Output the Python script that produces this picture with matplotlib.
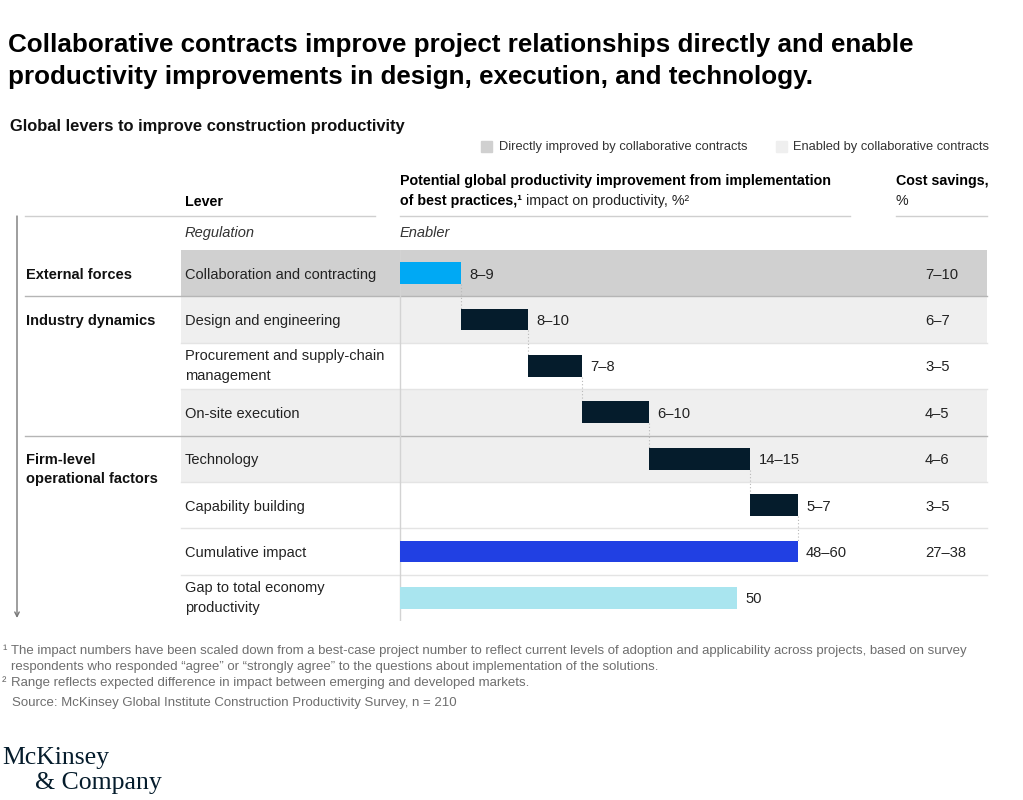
import numpy as np
import matplotlib.pyplot as plt

W, H = 1023, 800
plt.rcParams['font.family'] = ['Liberation Sans', 'DejaVu Sans']

# data
levers = ["Collaboration and contracting", "Design and engineering",
          "Procurement and supply-chain\nmanagement", "On-site execution",
          "Technology", "Capability building", "Cumulative impact",
          "Gap to total economy\nproductivity"]
impact_labels = ["8–9", "8–10", "7–8", "6–10", "14–15", "5–7", "48–60", "50"]
impact_high = [9, 10, 8, 10, 15, 7]   # step bars drawn at the top of each range
gap_value = 50
cost_savings = ["7–10", "6–7", "3–5", "4–5", "4–6", "3–5", "27–38", ""]
groups = ["External forces", "Industry dynamics", "Firm-level\noperational factors"]
group_rows = [0, 1, 4]
row_kind = ["direct", "enabled", None, "enabled", "enabled", None, None, None]

shade = {"direct": "#d0d0d0", "enabled": "#efefef"}
navy = "#051c2c"


def fx(x):
    return x / W


def fy(y):
    return 1 - y / H


fig = plt.figure(figsize=(W / 100, H / 100), dpi=100)

# table / bar area: rows from y=250 to y=621 px, 0 of the bar scale at x=400 px
ax = fig.add_axes([0, fy(621), 1, (621 - 250) / H])
ppu = 6.74
ax.set_xlim(-400 / ppu, (W - 400) / ppu)
ax.set_ylim(len(levers) - 0.5, -0.5)
ax.axis('off')

for i, kind in enumerate(row_kind):
    if kind:
        ax.axhspan(i - 0.5, i + 0.5, xmin=fx(181), xmax=fx(987), color=shade[kind], lw=0, zorder=0)

for yb in [1.5, 2.5, 4.5, 5.5, 6.5]:
    ax.axhline(yb, xmin=fx(181), xmax=fx(987), color='#e4e4e4', lw=1, zorder=1)
for yb in [0.5, 3.5]:
    ax.axhline(yb, xmin=fx(25), xmax=fx(987), color='#b5b5b5', lw=1, zorder=1)
ax.axvline(0, color='#d3d3d3', lw=1, zorder=1)

lefts = np.concatenate([[0], np.cumsum(impact_high)[:-1]])
ends = np.cumsum(impact_high)
bar_h = 0.47
ax.barh(range(len(impact_high)), impact_high, left=lefts, height=bar_h,
        color=['#00a9f4'] + [navy] * (len(impact_high) - 1), zorder=3)
total = ends[-1]
n = len(impact_high)
ax.barh(n, total, height=bar_h, color='#2140e3', zorder=3)
ax.barh(n + 1, gap_value, height=bar_h, color='#a9e5ef', zorder=3)

# dotted connectors between steps
for i, x in enumerate(ends):
    ax.plot([x, x], [i + bar_h / 2, i + 1 - bar_h / 2], ls=(0, (1, 2)), color='#b8b8b8', lw=0.8, zorder=2)

bar_ends = list(ends) + [total, gap_value]
for i, (xe, lab) in enumerate(zip(bar_ends, impact_labels)):
    ax.annotate(lab, (xe, i), xytext=(6, 0), textcoords='offset points',
                va='center_baseline', ha='left', fontsize=10.6, color='#222')

ytr = ax.get_yaxis_transform()
for i, (lev, cs) in enumerate(zip(levers, cost_savings)):
    ax.text(fx(185), i, lev, transform=ytr, va='center_baseline' if '\n' not in lev else 'center',
            ha='left', fontsize=10.5, color='#222', linespacing=1.55)
    ax.text(fx(925), i, cs, transform=ytr, va='center_baseline', ha='left', fontsize=10.6, color='#222')

for g, r in zip(groups, group_rows):
    off = 0.23 if '\n' in g else 0
    ax.text(fx(26), r + off, g, transform=ytr, va='center_baseline' if off == 0 else 'center',
            ha='left', fontsize=10.5, fontweight='bold', color='#111', linespacing=1.5)

# left arrow
ax.annotate('', xy=(fx(17), fy(618)), xytext=(fx(17), fy(216)), xycoords='figure fraction',
            arrowprops=dict(arrowstyle='->', color='#777', lw=1, shrinkA=0, shrinkB=0,
                            mutation_scale=8), annotation_clip=False)

# titles
fig.text(fx(8), fy(45), "Collaborative contracts improve project relationships directly and enable",
         fontsize=18.7, fontweight='bold', va='center', ha='left', color='#000')
fig.text(fx(8), fy(77), "productivity improvements in design, execution, and technology.",
         fontsize=18.7, fontweight='bold', va='center', ha='left', color='#000')
fig.text(fx(10), fy(126), "Global levers to improve construction productivity",
         fontsize=11.9, fontweight='bold', va='center', ha='left', color='#111')

# legend
for sx, tx, c, lab in [(481, 499, shade['direct'], "Directly improved by collaborative contracts"),
                       (776, 793, shade['enabled'], "Enabled by collaborative contracts")]:
    fig.patches.append(plt.Rectangle((fx(sx), fy(152)), 11 / W, 11 / H, color=c,
                                     transform=fig.transFigure, figure=fig))
    fig.text(fx(tx), fy(147), lab, fontsize=9.25, va='center', ha='left', color='#333')

# column headers
hs = 10.3
fig.text(fx(185), fy(202), "Lever", fontsize=hs, fontweight='bold', va='center', ha='left')
fig.text(fx(400), fy(181), "Potential global productivity improvement from implementation",
         fontsize=hs, fontweight='bold', va='center', ha='left')
t_b = fig.text(fx(400), fy(201), "of best practices,¹", fontsize=hs, fontweight='bold',
               va='center', ha='left')
ax.annotate(" impact on productivity, %²", xy=(1, 0), xycoords=t_b, va='bottom', ha='left',
            fontsize=hs, color='#222', annotation_clip=False)
fig.text(fx(896), fy(181), "Cost savings,", fontsize=hs, fontweight='bold', va='center', ha='left')
fig.text(fx(896), fy(201), "%", fontsize=hs, va='center', ha='left', color='#222')
for x0, x1 in [(25, 375), (400, 850), (896, 987)]:
    fig.add_artist(plt.Line2D([fx(x0), fx(x1)], [fy(216), fy(216)], color='#cfcfcf', lw=1))
fig.text(fx(185), fy(233), "Regulation", fontsize=10.5, style='italic', va='center', ha='left', color='#333')
fig.text(fx(400), fy(233), "Enabler", fontsize=10.5, style='italic', va='center', ha='left', color='#333')

# footnotes
fc = '#6e6e6e'
fs = 9.5
fig.text(fx(2), fy(651), "¹", fontsize=fs, va='center', ha='left', color=fc)
fig.text(fx(11), fy(651), "The impact numbers have been scaled down from a best-case project number to reflect current levels "
         "of adoption and applicability across projects, based on survey", fontsize=fs, va='center', ha='left', color=fc)
fig.text(fx(11), fy(667), "respondents who responded “agree” or “strongly agree” to the questions about implementation "
         "of the solutions.", fontsize=fs, va='center', ha='left', color=fc)
fig.text(fx(2), fy(683), "²", fontsize=fs, va='center', ha='left', color=fc)
fig.text(fx(11), fy(683), "Range reflects expected difference in impact between emerging and developed markets.",
         fontsize=fs, va='center', ha='left', color=fc)
fig.text(fx(12), fy(703), "Source: McKinsey Global Institute Construction Productivity Survey, n = 210",
         fontsize=fs, va='center', ha='left', color=fc)

# logo
fig.text(fx(2), fy(758), "McKinsey", fontsize=18.5, family='Liberation Serif', va='center', ha='left', color=navy)
fig.text(fx(35), fy(783), "& Company", fontsize=18.5, family='Liberation Serif', va='center', ha='left', color=navy)

fig.savefig('out.png', dpi=100)
